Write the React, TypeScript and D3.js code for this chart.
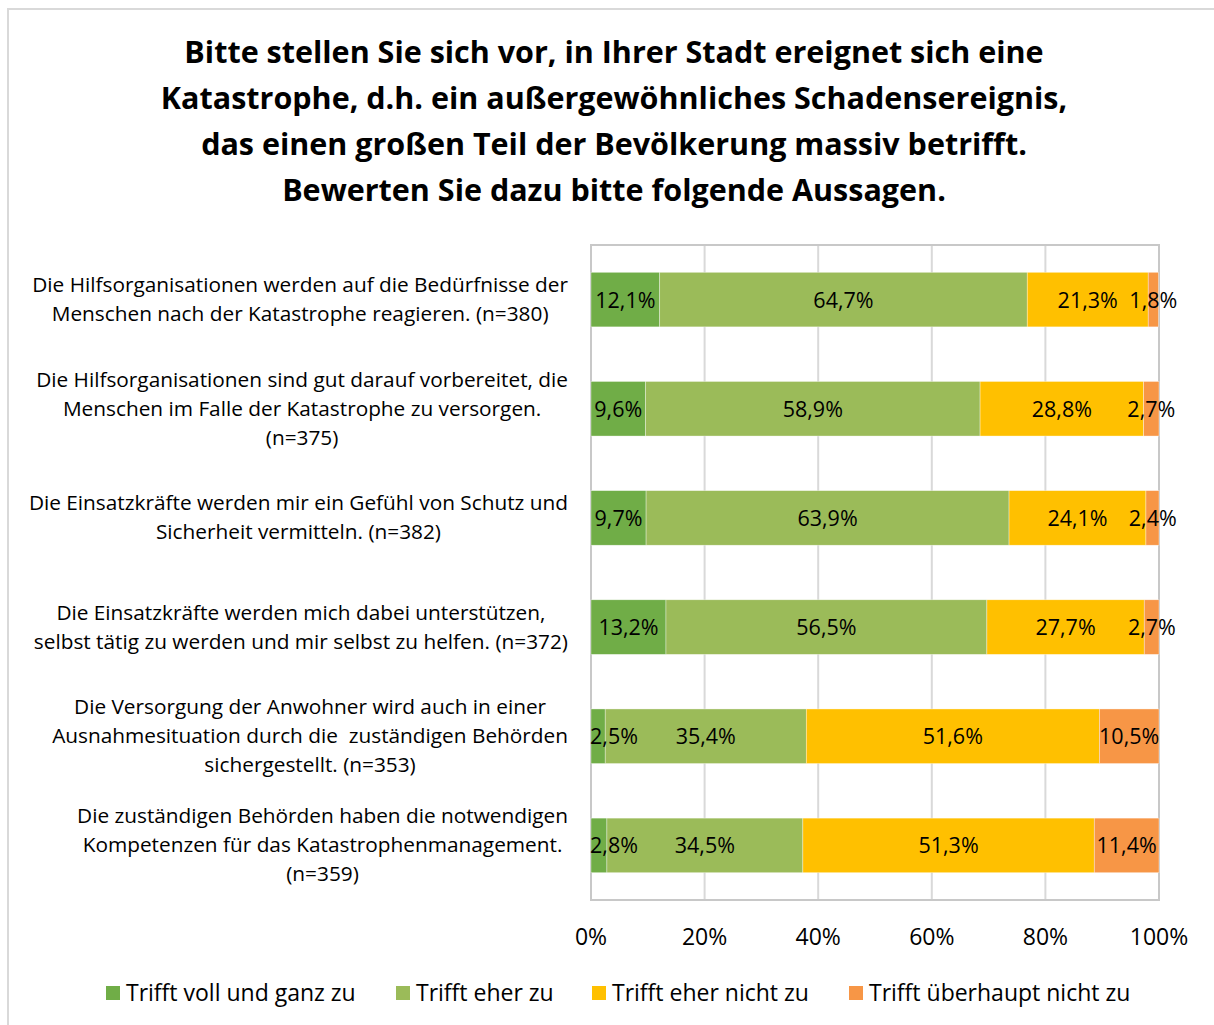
import React from "react";
import * as d3 from "d3";

const titleLines = [
  "Bitte stellen Sie sich vor, in Ihrer Stadt ereignet sich eine",
  "Katastrophe, d.h. ein außergewöhnliches Schadensereignis,",
  "das einen großen Teil der Bevölkerung massiv betrifft.",
  "Bewerten Sie dazu bitte folgende Aussagen.",
];

const categories = [
  ["Die Hilfsorganisationen werden auf die Bedürfnisse der", "Menschen nach der Katastrophe reagieren. (n=380)"],
  ["Die Hilfsorganisationen sind gut darauf vorbereitet, die", "Menschen im Falle der Katastrophe zu versorgen.", "(n=375)"],
  ["Die Einsatzkräfte werden mir ein Gefühl von Schutz und", "Sicherheit vermitteln. (n=382)"],
  ["Die Einsatzkräfte werden mich dabei unterstützen,", "selbst tätig zu werden und mir selbst zu helfen. (n=372)"],
  ["Die Versorgung der Anwohner wird auch in einer", "Ausnahmesituation durch die  zuständigen Behörden", "sichergestellt. (n=353)"],
  ["Die zuständigen Behörden haben die notwendigen", "Kompetenzen für das Katastrophenmanagement.", "(n=359)"],
];

const seriesNames = ["Trifft voll und ganz zu", "Trifft eher zu", "Trifft eher nicht zu", "Trifft überhaupt nicht zu"];
const seriesColors = ["#70AD47", "#9BBB59", "#FFC000", "#F79646"];

const vollUndGanz = [12.1, 9.6, 9.7, 13.2, 2.5, 2.8];
const eher = [64.7, 58.9, 63.9, 56.5, 35.4, 34.5];
const eherNicht = [21.3, 28.8, 24.1, 27.7, 51.6, 51.3];
const ueberhauptNicht = [1.8, 2.7, 2.4, 2.7, 10.5, 11.4];

const xTicks = [0, 20, 40, 60, 80, 100];

const FONT = "'Open Sans', 'Noto Sans', sans-serif";
const CAT_FONT_SIZE = 20.8;

function measure(text: string, size: number): number {
  try {
    const c = document.createElement("canvas");
    const ctx = c.getContext("2d");
    if (!ctx) return text.length * size * 0.5;
    ctx.font = `${size}px ${FONT}`;
    return ctx.measureText(text).width;
  } catch (e) {
    return text.length * size * 0.5;
  }
}

export default function App() {
  const W = 1214, H = 1025;
  const left = 591, right = 1159, top = 245, bottom = 900;
  const labelRight = 568;
  const x = d3.scaleLinear().domain([0, 100]).range([left, right]);
  const idx = categories.map((_, i) => i);
  const y = d3.scaleBand<number>().domain(idx).range([top, bottom]).paddingInner(0.5).paddingOuter(0.25);

  const table = idx.map((i) => ({
    i,
    s0: vollUndGanz[i],
    s1: eher[i],
    s2: eherNicht[i],
    s3: ueberhauptNicht[i],
  }));
  const stack = d3.stack<any>().keys(["s0", "s1", "s2", "s3"]);
  const layers = stack(table);

  const fmt = (v: number) => v.toFixed(1).replace(".", ",") + "%";

  const legendX = [106, 396, 592, 849];

  return (
    <svg width={W} height={H} style={{ display: "block", position: "absolute", left: 0, top: 0 }} fontFamily={FONT}>
      <rect x={0} y={0} width={W} height={H} fill="#fff" />
      <rect x={8} y={9} width={W + 20} height={H + 20} fill="none" stroke="#D9D9D9" strokeWidth={2} />
      {titleLines.map((t, i) => (
        <text key={i} x={614} y={63 + i * 46} textAnchor="middle" fontSize={30.5} fontWeight="bold" fill="#000">
          {t}
        </text>
      ))}
      {xTicks.map((t) => (
        <line key={t} x1={x(t)} x2={x(t)} y1={top} y2={bottom} stroke="#D9D9D9" strokeWidth={2} />
      ))}
      <rect x={left} y={top} width={right - left} height={bottom - top} fill="none" stroke="#C8C8C8" strokeWidth={2} />
      {layers.map((layer, si) => (
        <g key={si}>
          {layer.map((d, ci) => (
            <rect
              key={ci}
              x={x(d[0])}
              y={y(ci)!}
              width={x(Math.min(d[1], 100)) - x(d[0])}
              height={y.bandwidth()}
              fill={seriesColors[si]}
              stroke="#fff"
              strokeWidth={0.6}
              strokeOpacity={0.6}
            />
          ))}
        </g>
      ))}
      {layers.map((layer, si) => (
        <g key={"l" + si}>
          {layer.map((d, ci) => {
            const v = d[1] - d[0];
            let cx = (x(d[0]) + x(d[1])) / 2;
            const halfW = 23;
            if (cx - halfW < left) cx = left + halfW;
            return (
              <text key={ci} x={cx} y={y(ci)! + y.bandwidth() / 2 + 8} textAnchor="middle" fontSize={21.5} fill="#000">
                {fmt(v)}
              </text>
            );
          })}
        </g>
      ))}
      {categories.map((lines, ci) => {
        const cy = y(ci)! + y.bandwidth() / 2;
        const lh = 29;
        const start = cy - ((lines.length - 1) * lh) / 2;
        const maxW = Math.max(...lines.map((l) => measure(l, CAT_FONT_SIZE)));
        const cxText = labelRight - maxW / 2;
        return (
          <g key={ci}>
            {lines.map((ln, li) => (
              <text
                key={li}
                x={cxText}
                y={start + li * lh + 7}
                textAnchor="middle"
                fontSize={CAT_FONT_SIZE}
                fill="#000"
                style={{ whiteSpace: "pre" }}
              >
                {ln}
              </text>
            ))}
          </g>
        );
      })}
      {xTicks.map((t) => (
        <text key={t} x={x(t)} y={945} textAnchor="middle" fontSize={23} fill="#000">
          {t + "%"}
        </text>
      ))}
      {seriesNames.map((n, i) => (
        <g key={n} transform={`translate(${legendX[i]},0)`}>
          <rect x={0} y={986} width={14} height={14} fill={seriesColors[i]} />
          <text x={20} y={1001} fontSize={23} fill="#000">
            {n}
          </text>
        </g>
      ))}
    </svg>
  );
}
